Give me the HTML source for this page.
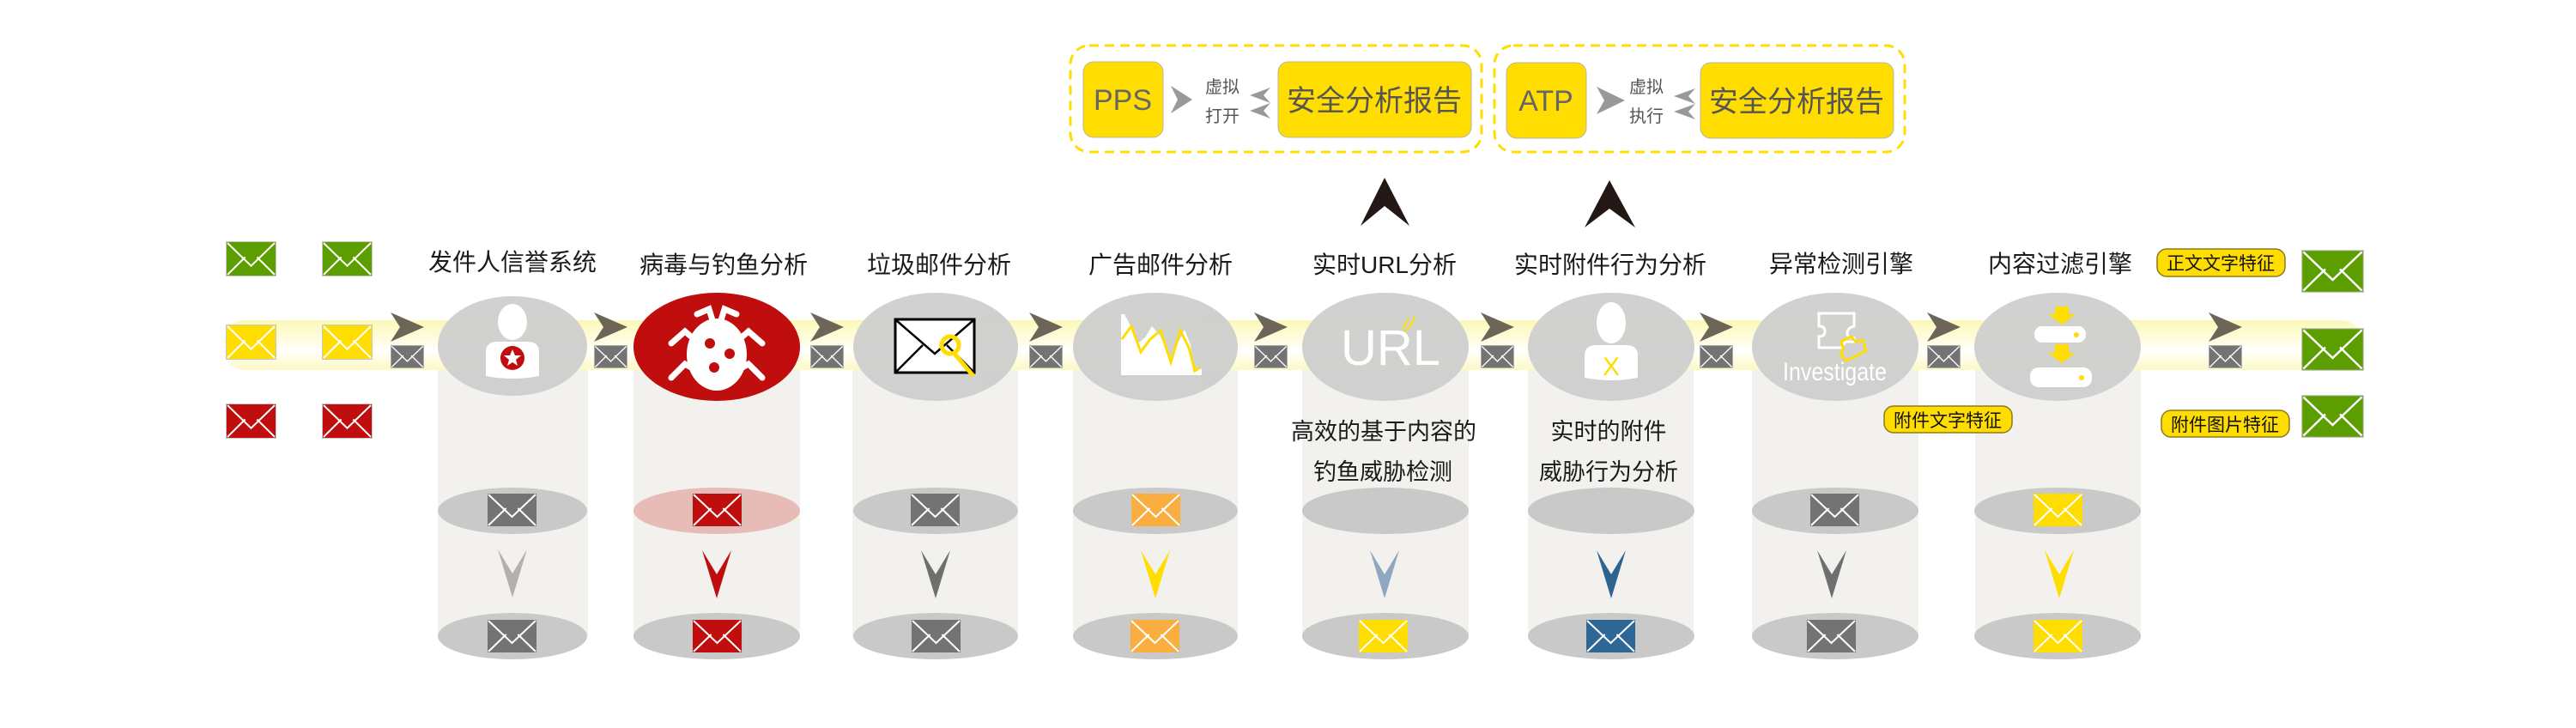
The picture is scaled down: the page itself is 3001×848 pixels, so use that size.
<!DOCTYPE html>
<html><head><meta charset="utf-8"><style>
html,body{margin:0;padding:0;background:#fff;}
svg{display:block;}
text{font-family:"Liberation Sans","Noto Sans CJK SC",sans-serif;}
</style></head><body>
<svg width="3001" height="848" viewBox="0 0 3001 848" xmlns="http://www.w3.org/2000/svg">
<defs>
<symbol id="env" viewBox="0 0 60 40" preserveAspectRatio="none">
<rect x="0.5" y="0.5" width="59" height="39" fill="currentColor" stroke="#c8c8c8" stroke-width="1"/>
<path d="M2 2 L30 28 L58 2 M2 38 L23 18 M58 38 L37 18" stroke="#fff" stroke-width="2" fill="none"/>
</symbol>
<linearGradient id="band" x1="0" y1="0" x2="0" y2="1">
<stop offset="0" stop-color="#fbf8b8"/><stop offset="0.45" stop-color="#fffde6"/><stop offset="0.6" stop-color="#ffffff"/><stop offset="1" stop-color="#fcf9c4"/>
</linearGradient>
</defs>

<!-- top section -->
<rect x="1247" y="53" width="479" height="124" rx="22" fill="none" stroke="#ffdd00" stroke-width="3" stroke-dasharray="11 7"/>
<rect x="1741" y="53" width="478" height="124" rx="22" fill="none" stroke="#ffdd00" stroke-width="3" stroke-dasharray="11 7"/>
<rect x="1262" y="72" width="93" height="88" rx="12" fill="#ffdd00" stroke="#b8b8a0"/>
<text x="1308" y="128" font-size="34" fill="#666" text-anchor="middle">PPS</text>
<polygon points="1364,100 1389,116 1364,132 1372,116" fill="#999"/>
<text x="1424" y="108" font-size="20" fill="#555" text-anchor="middle">虚拟</text>
<text x="1424" y="142" font-size="20" fill="#555" text-anchor="middle">打开</text>
<polygon points="1480,102 1456,111 1480,120 1472,111" fill="#999"/>
<polygon points="1480,120 1456,129 1480,138 1472,129" fill="#999"/>
<rect x="1489" y="72" width="225" height="88" rx="12" fill="#ffdd00" stroke="#b8b8a0"/>
<text x="1601" y="129" font-size="34" fill="#555" text-anchor="middle">安全分析报告</text>

<rect x="1755" y="73" width="93" height="88" rx="12" fill="#ffdd00" stroke="#b8b8a0"/>
<text x="1801" y="129" font-size="34" fill="#666" text-anchor="middle">ATP</text>
<polygon points="1860,101 1893,117 1860,133 1869,117" fill="#999"/>
<text x="1918" y="108" font-size="20" fill="#555" text-anchor="middle">虚拟</text>
<text x="1918" y="142" font-size="20" fill="#555" text-anchor="middle">执行</text>
<polygon points="1975,103 1950,112 1975,121 1967,112" fill="#999"/>
<polygon points="1975,121 1950,130 1975,139 1967,130" fill="#999"/>
<rect x="1981" y="73" width="225" height="88" rx="12" fill="#ffdd00" stroke="#b8b8a0"/>
<text x="2093" y="130" font-size="34" fill="#555" text-anchor="middle">安全分析报告</text>

<polygon points="1613,207 1642,263 1613,240 1585,263" fill="#231815"/>
<polygon points="1875,210 1905,265 1875,243 1846,265" fill="#231815"/>

<!-- columns base -->
<g fill="#f3f1ee">
<rect x="510" y="404" width="175" height="337"/>
<rect x="738" y="404" width="194" height="337"/>
<rect x="993" y="404" width="193" height="337"/>
<rect x="1250" y="404" width="192" height="337"/>
<rect x="1517" y="404" width="194" height="337"/>
<rect x="1780" y="404" width="193" height="337"/>
<rect x="2041" y="404" width="194" height="337"/>
<rect x="2301" y="404" width="193" height="337"/>
</g>
<!-- band -->
<rect x="261" y="373" width="2491" height="58" rx="24" fill="url(#band)"/>

<!-- circles -->
<g fill="#cdcdcd" opacity="0.93">
<ellipse cx="597" cy="403" rx="87" ry="58"/>
<ellipse cx="1090" cy="404" rx="96" ry="63"/>
<ellipse cx="1346" cy="404" rx="96" ry="63"/>
<ellipse cx="1614" cy="404" rx="97" ry="63"/>
<ellipse cx="1877" cy="404" rx="97" ry="63"/>
<ellipse cx="2138" cy="404" rx="97" ry="63"/>
<ellipse cx="2397" cy="404" rx="97" ry="63"/>
</g>
<ellipse cx="835" cy="404" rx="97" ry="63" fill="#c00d0d"/>

<!-- mid and bottom ellipses -->
<g fill="#c9c9c9">
<ellipse cx="597" cy="595" rx="87" ry="27"/><ellipse cx="597" cy="741" rx="87" ry="27"/>
<ellipse cx="835" cy="741" rx="97" ry="27"/>
<ellipse cx="1090" cy="595" rx="96" ry="27"/><ellipse cx="1090" cy="741" rx="96" ry="27"/>
<ellipse cx="1346" cy="595" rx="96" ry="27"/><ellipse cx="1346" cy="741" rx="96" ry="27"/>
<ellipse cx="1614" cy="595" rx="97" ry="27"/><ellipse cx="1614" cy="741" rx="97" ry="27"/>
<ellipse cx="1877" cy="595" rx="97" ry="27"/><ellipse cx="1877" cy="741" rx="97" ry="27"/>
<ellipse cx="2138" cy="595" rx="97" ry="27"/><ellipse cx="2138" cy="741" rx="97" ry="27"/>
<ellipse cx="2397" cy="595" rx="97" ry="27"/><ellipse cx="2397" cy="741" rx="97" ry="27"/>
</g>
<ellipse cx="835" cy="595" rx="97" ry="27" fill="#e7bcb7"/>

<!-- titles -->
<g font-size="28" fill="#1a1a1a" text-anchor="middle">
<text x="597" y="315">发件人信誉系统</text>
<text x="843" y="318">病毒与钓鱼分析</text>
<text x="1094" y="318">垃圾邮件分析</text>
<text x="1352" y="318">广告邮件分析</text>
<text x="1613" y="318">实时URL分析</text>
<text x="1876" y="318">实时附件行为分析</text>
<text x="2145" y="317">异常检测引擎</text>
<text x="2400" y="317">内容过滤引擎</text>
</g>
<g font-size="27" fill="#1a1a1a" text-anchor="middle">
<text x="1612" y="512">高效的基于内容的</text>
<text x="1611" y="559">钓鱼威胁检测</text>
<text x="1874" y="512">实时的附件</text>
<text x="1874" y="559">威胁行为分析</text>
</g>

<!-- left envelopes -->
<use href="#env" x="263" y="281" width="59" height="41" style="color:#5c9e00"/>
<use href="#env" x="375" y="281" width="59" height="41" style="color:#5c9e00"/>
<use href="#env" x="263" y="378" width="59" height="41" style="color:#ffdd00"/>
<use href="#env" x="375" y="378" width="59" height="41" style="color:#ffdd00"/>
<use href="#env" x="263" y="470" width="59" height="41" style="color:#c00d0d"/>
<use href="#env" x="375" y="470" width="59" height="41" style="color:#c00d0d"/>
<!-- right envelopes -->
<use href="#env" x="2681" y="291" width="73" height="50" style="color:#5c9e00"/>
<use href="#env" x="2681" y="382" width="73" height="50" style="color:#5c9e00"/>
<use href="#env" x="2681" y="460" width="73" height="50" style="color:#5c9e00"/>

<!-- chevrons + small envelopes -->
<g fill="#6b6657">
<polygon points="455,364 494,381 455,398 466,381"/>
<polygon points="692,364 731,381 692,398 703,381"/>
<polygon points="944,364 983,381 944,398 955,381"/>
<polygon points="1199,364 1238,381 1199,398 1210,381"/>
<polygon points="1461,364 1500,381 1461,398 1472,381"/>
<polygon points="1725,364 1764,381 1725,398 1736,381"/>
<polygon points="1980,364 2019,381 1980,398 1991,381"/>
<polygon points="2245,364 2284,381 2245,398 2256,381"/>
<polygon points="2573,364 2612,381 2573,398 2584,381"/>
</g>
<g style="color:#737373">
<use href="#env" x="455" y="402" width="39" height="27"/>
<use href="#env" x="692" y="402" width="39" height="27"/>
<use href="#env" x="944" y="402" width="39" height="27"/>
<use href="#env" x="1199" y="402" width="39" height="27"/>
<use href="#env" x="1461" y="402" width="39" height="27"/>
<use href="#env" x="1725" y="402" width="39" height="27"/>
<use href="#env" x="1980" y="402" width="39" height="27"/>
<use href="#env" x="2245" y="402" width="39" height="27"/>
<use href="#env" x="2573" y="402" width="39" height="27"/>
</g>

<!-- column envelopes -->
<use href="#env" x="567" y="574" width="59" height="40" style="color:#737373"/>
<use href="#env" x="567" y="721" width="59" height="40" style="color:#737373"/>
<use href="#env" x="806" y="574" width="59" height="40" style="color:#c00d0d"/>
<use href="#env" x="806" y="721" width="59" height="40" style="color:#c00d0d"/>
<use href="#env" x="1060" y="574" width="59" height="40" style="color:#737373"/>
<use href="#env" x="1061" y="721" width="59" height="40" style="color:#737373"/>
<use href="#env" x="1317" y="574" width="59" height="40" style="color:#f9ae3f"/>
<use href="#env" x="1316" y="721" width="59" height="40" style="color:#f9ae3f"/>
<use href="#env" x="1582" y="721" width="59" height="40" style="color:#ffdd00"/>
<use href="#env" x="1847" y="721" width="59" height="40" style="color:#2e6796"/>
<use href="#env" x="2108" y="574" width="59" height="40" style="color:#737373"/>
<use href="#env" x="2104" y="721" width="59" height="40" style="color:#737373"/>
<use href="#env" x="2368" y="574" width="59" height="40" style="color:#ffdd00"/>
<use href="#env" x="2368" y="721" width="59" height="40" style="color:#ffdd00"/>

<!-- down arrows -->
<polygon points="580,640 597,668 614,640 597,696" fill="#b3b1af"/>
<polygon points="818,641 835,669 852,641 835,697" fill="#c00d0d"/>
<polygon points="1073,641 1090,669 1107,641 1090,697" fill="#6f6f6f"/>
<polygon points="1329,641 1346,669 1363,641 1346,697" fill="#ffdd00"/>
<polygon points="1596,641 1613,669 1630,641 1613,697" fill="#8fa8bf"/>
<polygon points="1860,641 1877,669 1894,641 1877,697" fill="#2e6390"/>
<polygon points="2117,641 2134,669 2151,641 2134,697" fill="#6f6f6f"/>
<polygon points="2382,641 2399,669 2416,641 2399,697" fill="#ffdd00"/>

<!-- icons -->
<!-- col1 person -->
<ellipse cx="597" cy="375" rx="17" ry="21" fill="#fff"/>
<path d="M566 438 L566 410 Q566 398 580 398 L614 398 Q628 398 628 410 L628 438 Q597 444 566 438 Z" fill="#fff"/>
<circle cx="597" cy="417" r="14" fill="#c00d0d"/>
<polygon points="597,407 600,414 607,414 601,419 603,426 597,422 591,426 593,419 587,414 594,414" fill="#fff"/>
<!-- col2 bug -->
<g stroke="#fff" stroke-width="7" stroke-linecap="round" fill="none">
<path d="M812 366 L826 360 L830 373"/><path d="M858 366 L844 360 L840 373"/>
<path d="M782 400 L798 386 L805 392"/><path d="M888 400 L872 386 L865 392"/>
<path d="M782 440 L798 424 L805 428"/><path d="M888 440 L872 424 L865 428"/>
</g>
<ellipse cx="835" cy="413" rx="35" ry="42" fill="#fff"/>
<circle cx="827" cy="400" r="6" fill="#c00d0d"/>
<circle cx="850" cy="412" r="6" fill="#c00d0d"/>
<circle cx="832" cy="428" r="6" fill="#c00d0d"/>
<!-- col3 envelope w/ magnifier -->
<rect x="1043" y="372" width="92" height="62" fill="#fff" stroke="#000" stroke-width="3"/>
<path d="M1044 373 L1089 412 L1134 373 M1044 433 L1075 402 M1134 433 L1103 402" stroke="#000" stroke-width="2.5" fill="none"/>
<circle cx="1107" cy="402" r="10" fill="none" stroke="#ffdd00" stroke-width="5"/>
<line x1="1112" y1="412" x2="1134" y2="438" stroke="#ffdd00" stroke-width="5"/>
<!-- col4 chart -->
<path d="M1306 366 L1306 437 L1400 437 L1400 430 L1395 428 L1390 433 L1387 402 L1380 384 L1372 400 L1363 418 L1352 392 L1342 380 L1334 393 L1326 400 L1316 378 L1310 366 Z" fill="#fff"/>
<path d="M1307 395 L1318 380 L1329 410 L1340 395 L1352 385 L1364 422 L1375 385 L1385 405 L1392 432 L1398 428" fill="none" stroke="#ffdd00" stroke-width="3"/>
<!-- col5 URL -->
<text x="1620" y="425" font-size="58" fill="#fff" text-anchor="middle">URL</text>
<path d="M1633 382 q6 -4 8 -12 M1636 386 q10 -6 12 -18" stroke="#ffdd00" stroke-width="2" fill="none"/>
<!-- col6 person -->
<ellipse cx="1877" cy="376" rx="17" ry="24" fill="#fff"/>
<path d="M1846 440 L1846 414 Q1846 402 1860 402 L1894 402 Q1908 402 1908 414 L1908 440 Q1877 446 1846 440 Z" fill="#fff"/>
<text x="1877" y="437" font-size="30" fill="#ffdd00" text-anchor="middle">X</text>
<!-- col7 puzzle -->
<path d="M2119 365 L2160 365 L2160 380 Q2152 382 2152 388 Q2152 394 2160 394 L2160 398 L2150 398 L2145 405 L2119 405 L2119 392 Q2126 392 2126 386 Q2126 380 2119 380 Z" fill="none" stroke="#fff" stroke-width="3"/>
<path d="M2145 398 L2156 392 L2162 398 L2170 396 L2174 408 L2160 416 L2150 420 L2144 412 Q2150 406 2145 400 Z" fill="none" stroke="#ffdd00" stroke-width="3"/>
<text x="2077" y="443" font-size="30" fill="#fff" textLength="121" lengthAdjust="spacingAndGlyphs">Investigate</text>
<!-- col8 filter -->
<polygon points="2394,357 2410,357 2410,366 2418,366 2402,378 2386,366 2394,366" fill="#ffdd00"/>
<rect x="2370" y="380" width="60" height="19" rx="9" fill="#fff"/>
<circle cx="2419" cy="390" r="3" fill="#ffdd00"/>
<polygon points="2394,401 2410,401 2410,411 2418,411 2402,423 2386,411 2394,411" fill="#ffdd00"/>
<rect x="2365" y="428" width="72" height="23" rx="10" fill="#fff"/>
<circle cx="2425" cy="440" r="3" fill="#ffdd00"/>

<!-- feature labels -->
<g fill="#ffdd00" stroke="#8a7a20" stroke-width="1.5">
<rect x="2513" y="290" width="149" height="32" rx="11"/>
<rect x="2195" y="473" width="149" height="31" rx="11"/>
<rect x="2518" y="478" width="149" height="31" rx="11"/>
</g>
<g font-size="21" fill="#111" text-anchor="middle">
<text x="2587" y="314">正文文字特征</text>
<text x="2269" y="497">附件文字特征</text>
<text x="2592" y="502">附件图片特征</text>
</g>
</svg>
</body></html>
